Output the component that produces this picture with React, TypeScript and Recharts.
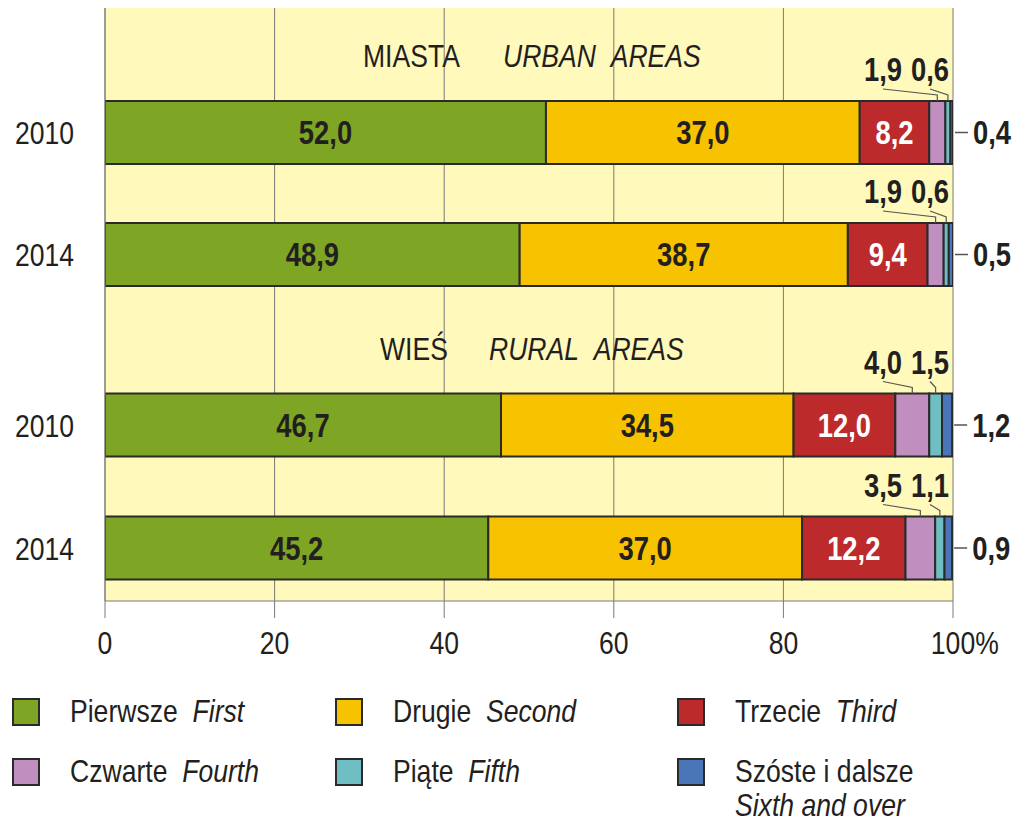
import { Bar, BarChart, CartesianGrid, LabelList, Legend, XAxis, YAxis } from "recharts";

const years = ["2010", "2014"];
const seriesKeys = ["first", "second", "third", "fourth", "fifth", "sixth"];
const seriesPl = ["Pierwsze", "Drugie", "Trzecie", "Czwarte", "Piąte", "Szóste i dalsze"];
const seriesEn = ["First", "Second", "Third", "Fourth", "Fifth", "Sixth and over"];
const seriesColors = ["#7fa524", "#f7c200", "#bd2a2b", "#c08fbf", "#6fbec3", "#4a76b7"];

// miasta / urban areas
const urbanFirst = [52.0, 48.9];
const urbanSecond = [37.0, 38.7];
const urbanThird = [8.2, 9.4];
const urbanFourth = [1.9, 1.9];
const urbanFifth = [0.6, 0.6];
const urbanSixth = [0.4, 0.5];

// wieś / rural areas
const ruralFirst = [46.7, 45.2];
const ruralSecond = [34.5, 37.0];
const ruralThird = [12.0, 12.2];
const ruralFourth = [4.0, 3.5];
const ruralFifth = [1.5, 1.1];
const ruralSixth = [1.2, 0.9];

const xTicks = [0, 20, 40, 60, 80, 100];

// Liberation Sans squeezed horizontally to look like a condensed face
const FONT = "'Liberation Sans', Arial, sans-serif";
const SX = 0.83;
const INK = "#231f20";
const GRID = "#7a7a7a";
const BG = "#fff9bb";
const WIDTH = 1020;
const RIGHT = 67;
const PLOT_RIGHT = WIDTH - RIGHT;

function buildRows(cols: number[][]) {
  return years.map((year, i) => {
    const row: Record<string, string | number> = { year };
    seriesKeys.forEach((k, s) => {
      row[k] = cols[s][i];
    });
    return row;
  });
}

const urbanRows = buildRows([urbanFirst, urbanSecond, urbanThird, urbanFourth, urbanFifth, urbanSixth]);
const ruralRows = buildRows([ruralFirst, ruralSecond, ruralThird, ruralFourth, ruralFifth, ruralSixth]);

const fmt = (v: any) => Number(v).toFixed(1).replace(".", ",");

function NText({ x, y, children, anchor = "start", size = 32, bold = false, italic = false, fill = INK, dy }: any) {
  return (
    <text
      transform={`translate(${x} ${y}) scale(${SX} 1)`}
      x={0}
      y={0}
      dy={dy}
      textAnchor={anchor}
      fill={fill}
      fontFamily={FONT}
      fontSize={size}
      fontWeight={bold ? "bold" : "normal"}
      fontStyle={italic ? "italic" : "normal"}
    >
      {children}
    </text>
  );
}

function box(props: any) {
  const vb = props.viewBox ?? props;
  return { x: Number(vb.x), y: Number(vb.y), width: Number(vb.width), height: Number(vb.height) };
}

const insideLabel = (fill: string) => (props: any) => {
  const { x, y, width, height } = box(props);
  return (
    <NText x={x + width / 2} y={y + height / 2} dy="0.36em" anchor="middle" fill={fill} bold size={33}>
      {fmt(props.value)}
    </NText>
  );
};

// small segments: value above the bar with a leader line
const topLabel = (textRight: number) => (props: any) => {
  const { x, y, width } = box(props);
  const cx = x + width / 2;
  const startX = textRight - 19;
  return (
    <g>
      <polyline
        points={`${startX},${y - 12} ${cx},${y - 6} ${cx},${y}`}
        fill="none"
        stroke="#555"
        strokeWidth={1.2}
      />
      <NText x={textRight} y={y - 20} anchor="end" bold size={33}>
        {fmt(props.value)}
      </NText>
    </g>
  );
};

const rightLabel = (props: any) => {
  const { x, y, width, height } = box(props);
  const end = x + width;
  const cy = y + height / 2;
  return (
    <g>
      <line x1={end + 2} y1={cy} x2={end + 15} y2={cy} stroke="#555" strokeWidth={1.5} />
      <NText x={end + 20} y={cy} dy="0.36em" bold size={33}>
        {fmt(props.value)}
      </NText>
    </g>
  );
};

const segmentLabels = [
  insideLabel(INK),
  insideLabel(INK),
  insideLabel("#ffffff"),
  topLabel(PLOT_RIGHT - 51),
  topLabel(PLOT_RIGHT - 4),
  rightLabel,
];

function renderBars() {
  return seriesKeys.map((key, i) => (
    <Bar
      key={key}
      dataKey={key}
      name={seriesPl[i]}
      stackId="a"
      fill={seriesColors[i]}
      stroke="#2a2a2a"
      strokeWidth={2}
      barSize={63}
      isAnimationActive={false}
    >
      <LabelList dataKey={key} content={segmentLabels[i]} />
    </Bar>
  ));
}

const YearTick = (props: any) => (
  <NText x={props.x} y={props.y} dy="0.36em" anchor="end" size={32}>
    {props.payload.value}
  </NText>
);

const XTick = (props: any) => {
  const { x, y, payload } = props;
  if (payload.value === 100) {
    // "100" stays centred on the tick, the % sign hangs to the right
    return (
      <NText x={x - 1.5 * 0.556 * 32 * SX} y={y} dy="0.71em" size={32}>
        {`${payload.value}%`}
      </NText>
    );
  }
  return (
    <NText x={x} y={y} dy="0.71em" anchor="middle" size={32}>
      {payload.value}
    </NText>
  );
};

const EmptyTick = () => <g />;

const renderLegend = (props: any) => {
  const payload = [...(props.payload ?? [])].sort(
    (a: any, b: any) => seriesPl.indexOf(a.value) - seriesPl.indexOf(b.value),
  );
  const cols = [12, 335, 677];
  return (
    <div style={{ position: "relative", width: WIDTH, height: 130, fontFamily: FONT, fontSize: 32, color: INK }}>
      {payload.map((entry: any, i: number) => {
        const idx = seriesPl.indexOf(entry.value);
        const wrap = idx === seriesKeys.length - 1;
        return (
          <div
            key={entry.value}
            style={{
              position: "absolute",
              left: cols[i % 3],
              top: Math.floor(i / 3) * 60,
              display: "flex",
              alignItems: "flex-start",
              lineHeight: "34px",
              whiteSpace: "nowrap",
            }}
          >
            <span
              style={{
                width: 24,
                height: 24,
                marginTop: 4,
                marginRight: 30,
                background: entry.color,
                border: "2px solid #2a2a2a",
                flex: "none",
              }}
            />
            <span style={{ display: "inline-block", transform: `scaleX(${SX})`, transformOrigin: "left top" }}>
              {entry.value}
              {wrap ? <br /> : "\u00a0\u00a0"}
              <i>{seriesEn[idx]}</i>
            </span>
          </div>
        );
      })}
    </div>
  );
};

export default function App() {
  return (
    <div style={{ position: "absolute", left: 0, top: 0, width: WIDTH, height: 825, background: "#fff" }}>
      <div style={{ position: "absolute", left: 0, top: 0 }}>
        <BarChart
          width={WIDTH}
          height={330}
          data={urbanRows}
          layout="vertical"
          margin={{ top: 8, right: RIGHT, bottom: 0, left: 0 }}
        >
          <CartesianGrid fill={BG} fillOpacity={1} stroke={GRID} horizontal={false} />
          <XAxis
            type="number"
            orientation="top"
            domain={[0, 100]}
            ticks={xTicks}
            interval={0}
            allowDataOverflow
            height={0}
            tick={<EmptyTick />}
            tickLine={false}
            stroke={GRID}
          />
          <YAxis
            type="category"
            dataKey="year"
            width={105}
            padding={{ top: 63, bottom: 15 }}
            tickLine={false}
            tickSize={0}
            tickMargin={31}
            stroke={GRID}
            tick={<YearTick />}
          />
          {renderBars()}
          <NText x={363} y={67} size={32}>
            MIASTA
          </NText>
          <NText x={503} y={67} size={32} italic>
            URBAN{"\u00a0\u00a0"}AREAS
          </NText>
        </BarChart>
      </div>
      <div style={{ position: "absolute", left: 0, top: 330 }}>
        <BarChart
          width={WIDTH}
          height={495}
          data={ruralRows}
          layout="vertical"
          margin={{ top: 0, right: RIGHT, bottom: 164, left: 0 }}
        >
          <CartesianGrid fill={BG} fillOpacity={1} stroke={GRID} horizontal={false} />
          <XAxis
            type="number"
            domain={[0, 100]}
            ticks={xTicks}
            interval={0}
            allowDataOverflow
            height={60}
            tickSize={17}
            tickMargin={13}
            stroke={GRID}
            tick={<XTick />}
          />
          <YAxis
            type="category"
            dataKey="year"
            width={105}
            padding={{ top: 33.5, bottom: -8.5 }}
            tickLine={false}
            tickSize={0}
            tickMargin={31}
            stroke={GRID}
            tick={<YearTick />}
          />
          {renderBars()}
          <NText x={380} y={30} size={32}>
            WIEŚ
          </NText>
          <NText x={489} y={30} size={32} italic>
            RURAL{"\u00a0\u00a0"}AREAS
          </NText>
          <Legend
            layout="horizontal"
            align="center"
            verticalAlign="middle"
            content={renderLegend}
            wrapperStyle={{ top: 364, left: 0, width: WIDTH, height: 130 }}
          />
        </BarChart>
      </div>
    </div>
  );
}
